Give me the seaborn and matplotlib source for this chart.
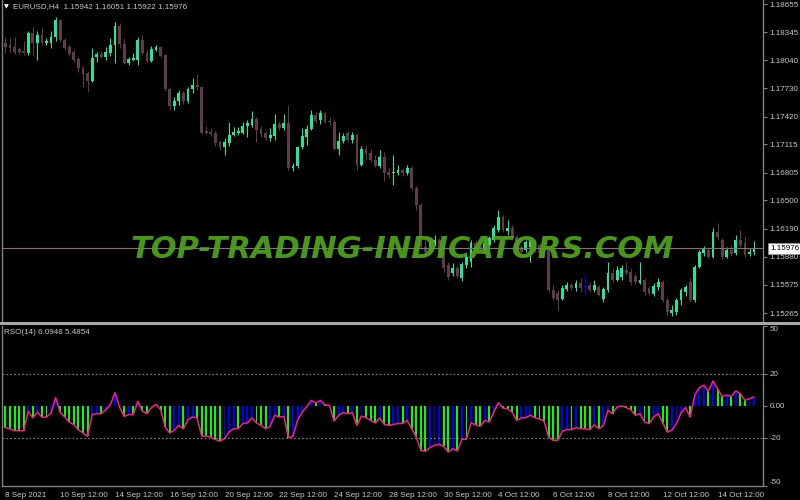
import numpy as np
import matplotlib
matplotlib.use("Agg")
import matplotlib.pyplot as plt
import seaborn as sns

# EURUSD H4 candles (8 Sep 12:00 .. 14 Oct 2021)
opens = [
    1.1823, 1.1820, 1.1818, 1.1816, 1.1814, 1.1812, 1.1834, 1.1823, 1.1831, 1.1823,
    1.1823, 1.1829, 1.1848, 1.1826, 1.1818, 1.1813, 1.1805, 1.1795, 1.1790, 1.1781,
    1.1807, 1.1811, 1.1807, 1.1812, 1.1820, 1.1841, 1.1822, 1.1801, 1.1804, 1.1804,
    1.1826, 1.1812, 1.1803, 1.1815, 1.1818, 1.1810, 1.1772, 1.1754, 1.1759, 1.1768,
    1.1759, 1.1772, 1.1777, 1.1774, 1.1726, 1.1725, 1.1724, 1.1714, 1.1709, 1.1713,
    1.1722, 1.1724, 1.1724, 1.1732, 1.1733, 1.1739, 1.1728, 1.1724, 1.1718, 1.1721,
    1.1734, 1.1729, 1.1735, 1.1686, 1.1688, 1.1709, 1.1720, 1.1728, 1.1744, 1.1738,
    1.1746, 1.1737, 1.1736, 1.1706, 1.1715, 1.1724, 1.1716, 1.1722, 1.1689, 1.1706,
    1.1702, 1.1694, 1.1688, 1.1698, 1.1681, 1.1680, 1.1680, 1.1683, 1.1680, 1.1686,
    1.1664, 1.1645, 1.1599, 1.1596, 1.1603, 1.1607, 1.1592, 1.1579, 1.1570, 1.1576,
    1.1565, 1.1579, 1.1583, 1.1603, 1.1600, 1.1596, 1.1601, 1.1607, 1.1618, 1.1632,
    1.1617, 1.1620, 1.1610, 1.1599, 1.1596, 1.1599, 1.1604, 1.1601, 1.1596, 1.1596,
    1.1552, 1.1549, 1.1542, 1.1553, 1.1557, 1.1554, 1.1559, 1.1555, 1.1557, 1.1552,
    1.1555, 1.1542, 1.1552, 1.1570, 1.1563, 1.1566, 1.1574, 1.1571, 1.1567, 1.1559,
    1.1563, 1.1554, 1.1547, 1.1555, 1.1561, 1.1541, 1.1527, 1.1528, 1.1541, 1.1550,
    1.1561, 1.1541, 1.1577, 1.1592, 1.1596, 1.1588, 1.1615, 1.1607, 1.1588, 1.1596,
    1.1592, 1.1607, 1.1603, 1.1591, 1.1594]
highs = [
    1.1829, 1.1828, 1.1829, 1.1818, 1.1825, 1.1836, 1.1840, 1.1836, 1.1839, 1.1828,
    1.1836, 1.1851, 1.1849, 1.1828, 1.1820, 1.1815, 1.1807, 1.1797, 1.1792, 1.1817,
    1.1813, 1.1814, 1.1818, 1.1828, 1.1846, 1.1845, 1.1828, 1.1807, 1.1812, 1.1829,
    1.1831, 1.1815, 1.1819, 1.1820, 1.1819, 1.1811, 1.1774, 1.1764, 1.1771, 1.1770,
    1.1774, 1.1784, 1.1789, 1.1776, 1.1732, 1.1729, 1.1726, 1.1716, 1.1718, 1.1736,
    1.1731, 1.1731, 1.1736, 1.1738, 1.1748, 1.1742, 1.1732, 1.1726, 1.1729, 1.1745,
    1.1737, 1.1745, 1.1755, 1.1691, 1.1710, 1.1729, 1.1733, 1.1749, 1.1747, 1.1749,
    1.1747, 1.1742, 1.1738, 1.1725, 1.1724, 1.1726, 1.1725, 1.1724, 1.1710, 1.1711,
    1.1707, 1.1700, 1.1705, 1.1703, 1.1686, 1.1700, 1.1689, 1.1686, 1.1689, 1.1688,
    1.1666, 1.1647, 1.1607, 1.1607, 1.1612, 1.1609, 1.1596, 1.1583, 1.1581, 1.1579,
    1.1583, 1.1591, 1.1607, 1.1607, 1.1602, 1.1609, 1.1611, 1.1623, 1.1640, 1.1634,
    1.1629, 1.1623, 1.1612, 1.1601, 1.1607, 1.1610, 1.1607, 1.1603, 1.1598, 1.1598,
    1.1557, 1.1552, 1.1557, 1.1561, 1.1559, 1.1563, 1.1565, 1.1568, 1.1561, 1.1563,
    1.1557, 1.1555, 1.1583, 1.1576, 1.1578, 1.1579, 1.1583, 1.1576, 1.1569, 1.1583,
    1.1565, 1.1556, 1.1559, 1.1565, 1.1563, 1.1543, 1.1535, 1.1543, 1.1554, 1.1557,
    1.1565, 1.1579, 1.1596, 1.1600, 1.1599, 1.1620, 1.1625, 1.1609, 1.1599, 1.1601,
    1.1612, 1.1618, 1.1610, 1.1598, 1.1605]
lows = [
    1.1812, 1.1812, 1.1811, 1.1811, 1.1810, 1.1810, 1.1810, 1.1804, 1.1820, 1.1820,
    1.1817, 1.1825, 1.1824, 1.1815, 1.1808, 1.1802, 1.1791, 1.1774, 1.1769, 1.1780,
    1.1802, 1.1806, 1.1804, 1.1808, 1.1801, 1.1817, 1.1800, 1.1799, 1.1803, 1.1799,
    1.1810, 1.1802, 1.1802, 1.1814, 1.1807, 1.1770, 1.1749, 1.1749, 1.1755, 1.1756,
    1.1757, 1.1768, 1.1771, 1.1723, 1.1723, 1.1721, 1.1710, 1.1705, 1.1700, 1.1710,
    1.1721, 1.1722, 1.1723, 1.1720, 1.1731, 1.1714, 1.1720, 1.1716, 1.1715, 1.1716,
    1.1727, 1.1727, 1.1683, 1.1682, 1.1686, 1.1707, 1.1711, 1.1727, 1.1735, 1.1734,
    1.1735, 1.1733, 1.1705, 1.1700, 1.1713, 1.1714, 1.1713, 1.1683, 1.1688, 1.1694,
    1.1692, 1.1687, 1.1686, 1.1671, 1.1675, 1.1667, 1.1678, 1.1677, 1.1678, 1.1661,
    1.1640, 1.1597, 1.1587, 1.1593, 1.1600, 1.1590, 1.1571, 1.1563, 1.1567, 1.1565,
    1.1562, 1.1576, 1.1577, 1.1593, 1.1593, 1.1592, 1.1599, 1.1604, 1.1615, 1.1615,
    1.1612, 1.1607, 1.1593, 1.1591, 1.1593, 1.1583, 1.1593, 1.1590, 1.1588, 1.1550,
    1.1541, 1.1530, 1.1541, 1.1551, 1.1552, 1.1551, 1.1550, 1.1546, 1.1550, 1.1550,
    1.1545, 1.1539, 1.1550, 1.1561, 1.1562, 1.1563, 1.1568, 1.1557, 1.1558, 1.1558,
    1.1546, 1.1546, 1.1545, 1.1552, 1.1539, 1.1524, 1.1523, 1.1524, 1.1535, 1.1545,
    1.1539, 1.1539, 1.1576, 1.1589, 1.1587, 1.1587, 1.1607, 1.1586, 1.1587, 1.1589,
    1.1590, 1.1599, 1.1588, 1.1589, 1.1590]
closes = [
    1.1818, 1.1817, 1.1813, 1.1813, 1.1812, 1.1834, 1.1823, 1.1831, 1.1823, 1.1825,
    1.1829, 1.1848, 1.1826, 1.1817, 1.1811, 1.1804, 1.1795, 1.1789, 1.1781, 1.1806,
    1.1811, 1.1807, 1.1813, 1.1820, 1.1841, 1.1822, 1.1801, 1.1805, 1.1806, 1.1826,
    1.1812, 1.1803, 1.1816, 1.1818, 1.1808, 1.1772, 1.1754, 1.1759, 1.1768, 1.1759,
    1.1772, 1.1777, 1.1774, 1.1724, 1.1724, 1.1723, 1.1713, 1.1709, 1.1714, 1.1722,
    1.1725, 1.1726, 1.1732, 1.1735, 1.1739, 1.1727, 1.1723, 1.1718, 1.1722, 1.1734,
    1.1729, 1.1735, 1.1686, 1.1688, 1.1709, 1.1721, 1.1728, 1.1744, 1.1737, 1.1746,
    1.1736, 1.1736, 1.1706, 1.1715, 1.1721, 1.1716, 1.1722, 1.1689, 1.1706, 1.1701,
    1.1694, 1.1688, 1.1698, 1.1680, 1.1678, 1.1681, 1.1683, 1.1680, 1.1686, 1.1664,
    1.1645, 1.1599, 1.1593, 1.1603, 1.1607, 1.1592, 1.1576, 1.1566, 1.1576, 1.1567,
    1.1580, 1.1588, 1.1603, 1.1596, 1.1596, 1.1603, 1.1609, 1.1620, 1.1632, 1.1618,
    1.1620, 1.1609, 1.1596, 1.1593, 1.1604, 1.1607, 1.1596, 1.1592, 1.1590, 1.1552,
    1.1543, 1.1541, 1.1554, 1.1557, 1.1554, 1.1559, 1.1554, 1.1555, 1.1552, 1.1557,
    1.1546, 1.1553, 1.1570, 1.1563, 1.1574, 1.1576, 1.1570, 1.1561, 1.1561, 1.1563,
    1.1550, 1.1549, 1.1556, 1.1561, 1.1541, 1.1528, 1.1530, 1.1541, 1.1552, 1.1555,
    1.1541, 1.1577, 1.1593, 1.1598, 1.1588, 1.1615, 1.1610, 1.1588, 1.1596, 1.1591,
    1.1607, 1.1601, 1.1590, 1.1593, 1.1598]

# RSO(14) indicator, one value per candle
rso = [
    -13.5, -14.2, -15.4, -15.4, -15.4, -3.3, -7.5, -3.8, -6.9, -6.9,
    -4.4, 5.2, -3.8, -6.9, -10.0, -11.7, -14.8, -16.9, -19.0, -5.4,
    -4.8, -4.8, -2.3, 0.8, 8.3, -0.6, -6.5, -5.4, -5.4, 2.9,
    -3.1, -4.8, -1.0, 1.0, -2.3, -13.1, -16.9, -15.2, -12.1, -14.2,
    -8.5, -6.9, -7.5, -18.8, -18.8, -19.4, -21.0, -22.0, -20.4, -16.3,
    -14.2, -14.2, -11.0, -10.6, -7.5, -10.6, -12.1, -14.2, -12.7, -5.8,
    -6.9, -6.5, -19.8, -19.0, -9.0, -3.8, -0.6, 3.5, 1.9, 3.5,
    0.8, 0.4, -9.4, -5.8, -4.2, -4.8, -4.2, -12.1, -6.3, -7.3,
    -9.0, -10.6, -7.5, -11.5, -12.1, -11.5, -11.0, -11.0,
    -9.0, -14.2, -19.4, -27.7, -28.3, -26.0, -24.6, -24.0, -25.2, -28.8,
    -26.7, -28.1, -20.8, -20.8, -10.6, -11.7, -12.7, -9.0, -10.0, -3.8,
    2.1, -1.3, -1.7, -3.8, -9.0, -7.5, -7.3, -5.8, -7.3, -8.1,
    -9.4, -19.4, -21.5, -21.5, -15.8, -14.8, -14.8, -13.5, -14.2, -14.2,
    -14.8, -11.7, -14.2, -12.1, -2.7, -4.8, -0.6, 0.0, -1.0, -2.3,
    -5.8, -4.8, -10.0, -11.0, -6.9, -4.8, -10.6, -16.3, -15.2, -11.0,
    -4.4, -1.0, -6.9, 6.7, 11.5, 12.9, 9.2, 15.6, 10.8, 6.0,
    6.7, 6.0, 9.4, 7.7, 3.5, 4.6, 5.6]

price_ticks = [1.18655, 1.18345, 1.18040, 1.17730, 1.17420, 1.17115, 1.16805,
               1.16500, 1.16190, 1.15880, 1.15575, 1.15265]
rso_ticks = [50, 20, 0, -20, -50]
rso_tick_labels = ["50", "20", "0.00", "-20", "-50"]
date_tick_bars = [0, 12, 24, 36, 48, 60, 72, 84, 96, 108, 120, 132, 144, 156]
date_labels = ["8 Sep 2021", "10 Sep 12:00", "14 Sep 12:00", "16 Sep 12:00",
               "20 Sep 12:00", "22 Sep 12:00", "24 Sep 12:00", "28 Sep 12:00",
               "30 Sep 12:00", "4 Oct 12:00", "6 Oct 12:00", "8 Oct 12:00",
               "12 Oct 12:00", "14 Oct 12:00"]
last_price = 1.15976
header = "EURUSD,H4  1.15942 1.16051 1.15922 1.15976"
rso_header = "RSO(14) 6.0948 5.4854"

BULL = "#1ee8a0"
BEAR = "#5e3c4c"
DOJI = "#0000ff"
TXT = "#c8c8c8"
GRID = "#808080"

sns.set_theme(style="dark", rc={"axes.facecolor": "black", "figure.facecolor": "black"})
plt.rcParams["font.family"] = ["Liberation Sans", "DejaVu Sans"]

o = np.array(opens); h = np.array(highs); l = np.array(lows); c = np.array(closes)
h = np.maximum(h, np.maximum(o, c))
l = np.minimum(l, np.minimum(o, c))
x = np.arange(len(c))
colors = np.where(c > o, BULL, np.where(c < o, BEAR, DOJI))

fig = plt.figure(figsize=(8, 5), dpi=100)
ax1 = fig.add_axes([0.003, 0.356, 0.951, 0.644])
ax2 = fig.add_axes([0.003, 0.028, 0.951, 0.320])

# candles
ax1.vlines(x, l, h, colors=colors, linewidth=0.75)
body = np.maximum(np.abs(c - o), 0.00009)
ax1.bar(x, body, bottom=np.minimum(o, c), width=0.62, color=colors, linewidth=0)
ax1.axhline(last_price, color="#8c6f7a", linewidth=0.8)
ax1.set_ylim(1.15167, 1.18699)
ax1.set_xlim(-0.66, 166.0)

ax1.text(0.526, last_price - 0.0001, "TOP-TRADING-INDICATORS.COM", transform=ax1.get_yaxis_transform(),
         ha="center", va="center", fontsize=22, fontweight="bold", style="italic",
         color="#4fa51c", alpha=0.92, zorder=5, family=["DejaVu Sans"])

# indicator: blue when rising, green when falling
hist_col = ["#0000ff" if i > 0 and rso[i] > rso[i - 1] else "#00ff00" for i in range(len(rso))]
ax2.bar(x, rso, width=0.42, color=hist_col, linewidth=0)
sns.lineplot(x=x, y=rso, ax=ax2, color="#ff1a8c", linewidth=1.1)
for lv in (20, -20):
    ax2.axhline(lv, color=GRID, linewidth=0.8, linestyle=(0, (1.5, 2)))
ax2.set_ylim(-50, 50)
ax2.set_xlim(-0.66, 166.0)

for ax in (ax1, ax2):
    ax.set_facecolor("black")
    ax.grid(False)
    for s in ax.spines.values():
        s.set_color(GRID)
        s.set_linewidth(1.0)
    ax.spines["top"].set_visible(False)
    ax.yaxis.tick_right()
    ax.tick_params(axis="y", colors=GRID, labelcolor=TXT, labelsize=5.8, length=3,
                   width=0.8, direction="out", pad=1.5, left=False, right=True)
    ax.set_ylabel("")

ax1.spines["bottom"].set_visible(False)
ax1.set_yticks(price_ticks)
ax1.set_yticklabels([f"{p:.5f}" for p in price_ticks])
ax1.set_xticks([])

# panel separator across the full width
fig.add_artist(plt.Line2D([0, 1], [0.354, 0.354], color="#a8a8a8", linewidth=2.2))

ax2.set_yticks(rso_ticks)
ax2.set_yticklabels(rso_tick_labels)
ylabs = ax2.get_yticklabels()
ylabs[0].set_va("top")
ylabs[-1].set_va("bottom")
ax2.set_xticks(date_tick_bars)
ax2.set_xticklabels(date_labels)
ax2.tick_params(axis="x", colors=GRID, labelcolor=TXT, labelsize=5.8, length=3,
                width=0.8, direction="out", pad=1.5)
for t in ax2.get_xticklabels():
    t.set_ha("left")

# price tag
ax1.text(1.009, last_price, f"{last_price:.5f}", transform=ax1.get_yaxis_transform(),
         ha="left", va="center", fontsize=5.8, color="black", clip_on=False,
         bbox=dict(boxstyle="square,pad=0.25", facecolor="white", edgecolor="#909090", linewidth=0.6))

fig.text(4 / 800, 1 - 7 / 500, "\u25bc", color="white", fontsize=4.5, va="center", ha="left",
         family=["DejaVu Sans"])
fig.text(13 / 800, 1 - 7 / 500, header, color=TXT, fontsize=5.8, va="center", ha="left")
fig.text(4 / 800, 1 - 332 / 500, rso_header, color=TXT, fontsize=5.8, va="center", ha="left")

fig.savefig("out.png", dpi=100, facecolor="black")
